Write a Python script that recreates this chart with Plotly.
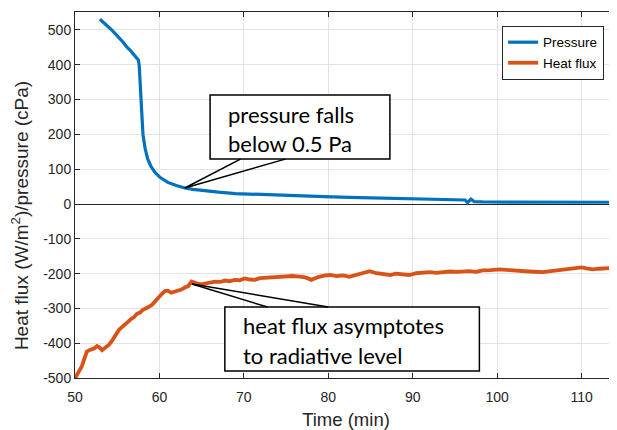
import plotly.graph_objects as go

# Pressure series (time in min, pressure in cPa)
pressure_time = [52.95, 53.4, 53.9, 54.4, 54.7, 55.2, 55.7, 56.1, 56.6, 57.1, 57.5,
                 57.6, 57.7, 57.8, 57.9, 58.05, 58.3, 58.6, 59.0, 59.5, 60.1, 61.0,
                 62.0, 63.0, 64.0, 65.5, 67.0, 69.0, 71.0, 73.5, 76.6, 79.5, 82.5,
                 85.5, 88.5, 91.5, 94.4, 96.2, 96.5, 96.9, 97.3, 98.3, 102.0, 106.0,
                 110.0, 114.2]
pressure_val = [531, 520, 510, 499, 490, 478, 465, 452, 440, 427, 414,
                400, 350, 300, 250, 200, 160, 130, 108, 90, 76, 62,
                53, 46, 42, 37, 34, 30, 28, 26, 23, 21, 19,
                17, 15, 13, 11.5, 11.5, 4, 14, 7, 6, 5.5, 5,
                5, 5]

# Heat flux series (time in min, W/m^2)
heat_time = [50.0, 50.2, 50.5, 50.8, 51.1, 51.4, 51.7, 52.0, 52.3, 52.6, 52.9, 53.2,
             53.5, 53.75, 54.0, 54.3, 54.6, 54.9, 55.2, 55.5, 55.9, 56.3, 56.7, 57.0,
             57.3, 57.7, 58.0, 58.3, 58.7, 59.1, 59.4, 59.7, 60.0, 60.3, 60.65, 61.0,
             61.4, 61.8, 62.2, 62.6, 63.0, 63.4, 63.8, 64.1, 64.4, 64.9, 65.4, 66.0,
             66.6, 67.2, 67.75, 68.3, 68.9, 69.5, 70.1, 70.7, 71.3, 71.9, 72.5, 73.1,
             73.7, 74.5, 75.3, 75.8, 76.6, 77.3, 78.0, 78.8, 79.5, 80.2, 81.0, 81.8,
             82.5, 83.3, 84.1, 84.9, 85.7, 86.5, 87.3, 88.0, 88.8, 89.6, 90.4, 91.2,
             92.0, 92.8, 93.6, 94.4, 95.2, 96.0, 96.7, 97.5, 98.3, 99.2, 100.3, 101.5,
             102.7, 103.8, 105.4, 106.6, 107.8, 108.9, 110.0, 110.6, 111.3, 112.1,
             112.95, 113.6, 114.2]
heat_val = [-501, -492, -480, -467, -445, -424, -420, -418, -415, -408, -412, -420,
            -414, -412, -405, -396, -385, -372, -362, -355, -348, -338, -329, -325,
            -316, -312, -305, -300, -296, -290, -282, -271, -266, -258, -250, -249,
            -255, -252, -247, -246, -240, -236, -223, -226, -228, -231, -228, -227,
            -223, -224, -220, -222, -218, -219, -214, -217, -218, -213, -212, -211,
            -209, -208, -206, -207, -209, -211, -218, -210, -206, -204, -207, -205,
            -209, -204, -200, -193, -199, -202, -204, -200, -202, -204, -199, -197,
            -196, -198, -195, -194, -195, -193, -193, -195, -191, -190, -188, -190,
            -193, -194, -196, -192, -190, -187, -182, -185, -188, -186,
            -185, -182, -183]

trace_names = ["Pressure", "Heat flux"]
trace_colors = ["#0072BD", "#D95319"]

x_ticks = [50, 60, 70, 80, 90, 100, 110]
y_ticks = [-500, -400, -300, -200, -100, 0, 100, 200, 300, 400, 500]

fig = go.Figure()
fig.add_trace(go.Scatter(x=pressure_time, y=pressure_val, mode="lines",
                         name=trace_names[0],
                         line=dict(color=trace_colors[0], width=3.2)))
fig.add_trace(go.Scatter(x=heat_time, y=heat_val, mode="lines",
                         name=trace_names[1],
                         line=dict(color=trace_colors[1], width=3.8)))

axis_font = dict(family="Arial", size=14, color="#262626")
call_font = dict(family="Lato", size=22, color="black")

fig.update_layout(
    width=617, height=430,
    margin=dict(l=67, r=8, t=4, b=60),
    paper_bgcolor="white", plot_bgcolor="white",
    font=axis_font,
    showlegend=True,
    legend=dict(x=0.788, y=0.962, xanchor="left", yanchor="top",
                bordercolor="#262626", borderwidth=1, bgcolor="white",
                font=dict(family="Arial", size=13.5, color="#000000"),
                itemwidth=30, tracegroupgap=0),
    xaxis=dict(range=[50, 114.2], tickvals=x_ticks, ticktext=[str(v) for v in x_ticks],
               showgrid=True, gridcolor="#e3e3e3", gridwidth=1,
               zeroline=False, showline=True, linecolor="#262626", linewidth=1,
               mirror="ticks", ticks="inside", ticklen=5, tickcolor="#262626",
               ticklabelstandoff=6,
               title=dict(text="Time (min)", font=dict(family="Arial", size=18.5, color="#262626"),
                          standoff=9),
               tickfont=axis_font),
    yaxis=dict(range=[-500, 551.7], tickvals=y_ticks, ticktext=[str(v) for v in y_ticks],
               showgrid=True, gridcolor="#e3e3e3", gridwidth=1,
               zeroline=True, zerolinecolor="#262626", zerolinewidth=1,
               showline=True, linecolor="#262626", linewidth=1,
               ticks="inside", ticklen=5, tickcolor="#262626",
               tickfont=axis_font),
)

# Y-axis label (placed as in the reference, slightly below centre)
fig.add_annotation(x=-0.1015, y=0.445, xref="paper", yref="paper",
                   text="Heat flux (W/m<sup>2</sup>)/pressure (cPa)", textangle=-90,
                   showarrow=False, xanchor="center", yanchor="middle",
                   font=dict(family="Arial", size=19, color="#262626"))

# Callout boxes
fig.add_shape(type="rect", xref="x", yref="y", x0=66.0, x1=87.3, y0=129, y1=313,
              line=dict(color="black", width=1.5), fillcolor="white", layer="above")
fig.add_shape(type="rect", xref="x", yref="y", x0=67.75, x1=97.9, y0=-480, y1=-296,
              line=dict(color="black", width=1.5), fillcolor="white", layer="above")

# Callout pointer lines
for (xa, ya, xb, yb) in [(63.0, 46, 69.6, 129), (63.0, 46, 74.9, 129),
                         (63.85, -230, 72.8, -296), (63.85, -230, 80.0, -296)]:
    fig.add_shape(type="line", xref="x", yref="y", x0=xa, y0=ya, x1=xb, y1=yb,
                  line=dict(color="black", width=1.5), layer="above")

for (tx, ty, txt) in [(67.9, 258, "pressure falls"), (67.9, 175, "below 0.5 Pa"),
                      (69.7, -350, "heat flux asymptotes"), (69.7, -434, "to radiative level")]:
    fig.add_annotation(x=tx, y=ty, xref="x", yref="y", text=txt, showarrow=False,
                       xanchor="left", yanchor="middle", align="left", font=call_font)

fig.write_html("out.html")
